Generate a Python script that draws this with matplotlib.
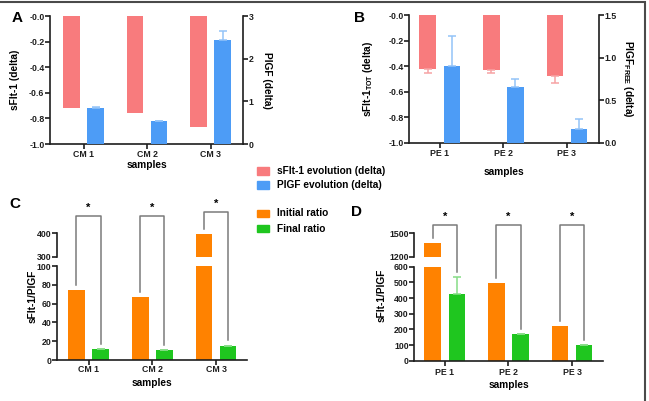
import numpy as np
import matplotlib
matplotlib.use("Agg")
import matplotlib.pyplot as plt
from matplotlib.lines import Line2D
from matplotlib.patches import Rectangle
from matplotlib.ticker import FormatStrFormatter

plt.rcParams["font.family"] = ["Liberation Sans", "DejaVu Sans"]
plt.rcParams["font.weight"] = "bold"
plt.rcParams["axes.unicode_minus"] = False
plt.rcParams["mathtext.fontset"] = "custom"
plt.rcParams["mathtext.rm"] = "Liberation Sans:bold"
plt.rcParams["mathtext.bf"] = "Liberation Sans:bold"

# ---- data ----
a_samples = ["CM 1", "CM 2", "CM 3"]
a_sflt = [-0.72, -0.76, -0.87]
a_plgf = [0.85, 0.53, 2.43]
a_plgf_err = [0.02, 0.0, 0.22]

b_samples = ["PE 1", "PE 2", "PE 3"]
b_sflt = [-0.42, -0.43, -0.48]
b_sflt_err = [0.03, 0.02, 0.055]
b_plgf = [0.90, 0.65, 0.16]
b_plgf_err = [0.36, 0.10, 0.12]

c_initial = [74, 67, 395]
c_final = [11.5, 10.5, 15]

d_initial = [1370, 493, 221]
d_final = [426, 170, 100]
d_final_err = [107, 0, 0]

RED, RED_E = "#f87b7d", "#f7a3a4"
BLUE, BLUE_E = "#4d9cf6", "#93c3f8"
ORANGE = "#ff8200"
GREEN, GREEN_E = "#1fc61f", "#86dd86"
INK = "#1e1e1e"
BRK = "#7a7a7a"
TICK_FS, LAB_FS = 6.3, 7.3

W, H = 649, 401
fig = plt.figure(figsize=(W / 100, H / 100), dpi=100)


def box(l, t, r, b):
    return [l / W, 1 - b / H, (r - l) / W, (b - t) / H]


def ftext(x, y, s, **kw):
    fig.text(x / W, 1 - y / H, s, ha="center", va="center", **kw)


def style(ax, show=("left", "bottom"), xpad=1.0):
    for side in ("left", "right", "top", "bottom"):
        ax.spines[side].set_visible(side in show)
        ax.spines[side].set_linewidth(1.2)
        ax.spines[side].set_color(INK)
    ax.tick_params(direction="out", length=3.5, width=1.2, labelsize=TICK_FS,
                   pad=0.5, colors=INK)
    ax.tick_params(axis="x", pad=xpad)
    ax.patch.set_alpha(0)


x = np.arange(3)
off, bw = 0.19, 0.26
one_up = lambda e: [np.zeros(len(e)), e]
one_dn = lambda e: [e, np.zeros(len(e))]
ekw = dict(capsize=3, elinewidth=1.1, capthick=1.1)

# ---- Panel A ----
ax = fig.add_axes(box(50, 16, 243, 144))
ax.bar(x - off, a_sflt, bw, color=RED)
ax.set_ylim(-1, 0)
ax.set_xlim(-0.53, 2.51)
ax.set_yticks(np.round(np.arange(-1, 0.01, 0.2), 1))
ax.yaxis.set_major_formatter(FormatStrFormatter("%.1f"))
ax.set_xticks(x, a_samples)
style(ax)
ax2 = ax.twinx()
ax2.bar(x + off, a_plgf, bw, color=BLUE, yerr=one_up(a_plgf_err),
        error_kw=dict(ecolor=BLUE_E, **ekw))
ax2.set_ylim(0, 3)
ax2.set_yticks([0, 1, 2, 3])
style(ax2, show=("right",))
ftext(17, 18, "A", fontsize=11)
ftext(15, 80, "sFlt-1 (delta)", fontsize=LAB_FS, rotation=90)
ftext(267, 80, "PlGF (delta)", fontsize=LAB_FS, rotation=270)
ftext(146.5, 164.5, "samples", fontsize=LAB_FS)

# ---- Panel B ----
bx = fig.add_axes(box(409.3, 15.3, 599.3, 142.7))
bx.bar(x - off, b_sflt, bw, color=RED, yerr=one_dn(b_sflt_err),
       error_kw=dict(ecolor=RED_E, **ekw))
bx.set_ylim(-1, 0)
bx.set_xlim(-0.48, 2.51)
bx.set_yticks(np.round(np.arange(-1, 0.01, 0.2), 1))
bx.yaxis.set_major_formatter(FormatStrFormatter("%.1f"))
bx.set_xticks(x, b_samples)
style(bx)
bx2 = bx.twinx()
bx2.bar(x + off, b_plgf, bw, color=BLUE, yerr=one_up(b_plgf_err),
        error_kw=dict(ecolor=BLUE_E, **ekw))
bx2.set_ylim(0, 1.5)
bx2.set_yticks([0, 0.5, 1.0, 1.5])
bx2.yaxis.set_major_formatter(FormatStrFormatter("%.1f"))
style(bx2, show=("right",))
ftext(360, 18, "B", fontsize=11)
ftext(368, 79, r"sFlt-1$_{\mathrm{TOT}}$ (delta)", fontsize=LAB_FS, rotation=90)
ftext(628, 79, r"PlGF$_{\mathrm{FREE}}$ (delta)", fontsize=LAB_FS, rotation=270)
ftext(504.3, 172, "samples", fontsize=LAB_FS)

# ---- legend (manual patches) ----
for (yc, col, lab) in [(171, RED, "sFlt-1 evolution (delta)"),
                       (185, BLUE, "PlGF evolution (delta)"),
                       (213.5, ORANGE, "Initial ratio"),
                       (228.5, GREEN, "Final ratio")]:
    fig.add_artist(Rectangle((256.7 / W, 1 - (yc + 3.7) / H), 12.3 / W, 7.4 / H,
                             color=col, transform=fig.transFigure))
    fig.text(277 / W, 1 - yc / H, lab, ha="left", va="center", fontsize=LAB_FS)


# ---- broken-axis panels ----
def broken(lo_box, hi_box, lo_lim, hi_lim, lo_ticks, hi_ticks, xlim, labels,
           initial, final, final_err, xpad):
    lo = fig.add_axes(box(*lo_box))
    hi = fig.add_axes(box(*hi_box))
    for a in (lo, hi):
        a.bar(x - off, initial, bw, color=ORANGE)
        a.bar(x + off, final, bw, color=GREEN, yerr=one_up(final_err),
              error_kw=dict(ecolor=GREEN_E, **ekw))
        a.set_xlim(*xlim)
    lo.set_ylim(*lo_lim)
    hi.set_ylim(*hi_lim)
    lo.set_yticks(lo_ticks)
    hi.set_yticks(hi_ticks)
    lo.set_xticks(x, labels)
    hi.set_xticks([])
    style(lo, xpad=xpad)
    style(hi, show=("left",))
    return lo, hi


def top_of(lo, hi, xv, v):
    a = hi if v > lo.get_ylim()[1] else lo
    return a.transData.transform((xv, v))


def brackets(lo, hi, tops, above):
    inv = fig.transFigure.inverted()
    ref = hi.transAxes.transform((0, 1))[1]
    for i, (t1, t2) in enumerate(tops):
        p1 = top_of(lo, hi, x[i] - off, t1)
        p2 = top_of(lo, hi, x[i] + off, t2)
        ytop = ref + above[i]
        pts = inv.transform([(p1[0], p1[1] + 5.5), (p1[0], ytop),
                             (p2[0], ytop), (p2[0], p2[1] + 5.5)])
        fig.add_artist(Line2D(pts[:, 0], pts[:, 1], color=BRK, lw=1.1,
                              transform=fig.transFigure))
        s = inv.transform([((p1[0] + p2[0]) / 2, ytop + 5)])[0]
        fig.text(s[0], s[1], "*", ha="center", va="baseline", fontsize=8)


cl, ch = broken((56.7, 266, 246.7, 360), (56.7, 233.3, 246.7, 256.7),
                (0, 100), (300, 400), np.arange(0, 101, 20), [300, 400],
                (-0.5, 2.48), a_samples, c_initial, c_final, [0, 0, 0], xpad=0)
brackets(cl, ch, list(zip(c_initial, c_final)), [17.3, 17.3, 21.6])
ftext(15, 204, "C", fontsize=11)
ftext(33, 296, "sFlt-1/PlGF", fontsize=LAB_FS, rotation=90)
ftext(151.7, 383.3, "samples", fontsize=LAB_FS)

dl, dh = broken((414.3, 266.7, 603.3, 360.7), (414.3, 233.3, 603.3, 256.7),
                (0, 600), (1200, 1500), np.arange(0, 601, 100), [1200, 1500],
                (-0.48, 2.49), b_samples, d_initial, d_final, d_final_err, xpad=2)
brackets(dl, dh, [(i, f + e) for i, f, e in zip(d_initial, d_final, d_final_err)],
         [8.3, 8.3, 8.3])
ftext(356, 211.7, "D", fontsize=11)
ftext(381.7, 295, "sFlt-1/PlGF", fontsize=LAB_FS, rotation=90)
ftext(508.8, 385, "samples", fontsize=LAB_FS)

# outer frame (left and bottom run off the image)
fig.add_artist(Rectangle((-5 / W, -5 / H), 650 / W, (H + 5 - 1.5) / H, fill=False,
                         edgecolor="#4a4a4a", lw=1.5, transform=fig.transFigure))

fig.savefig("out.png", dpi=100)
